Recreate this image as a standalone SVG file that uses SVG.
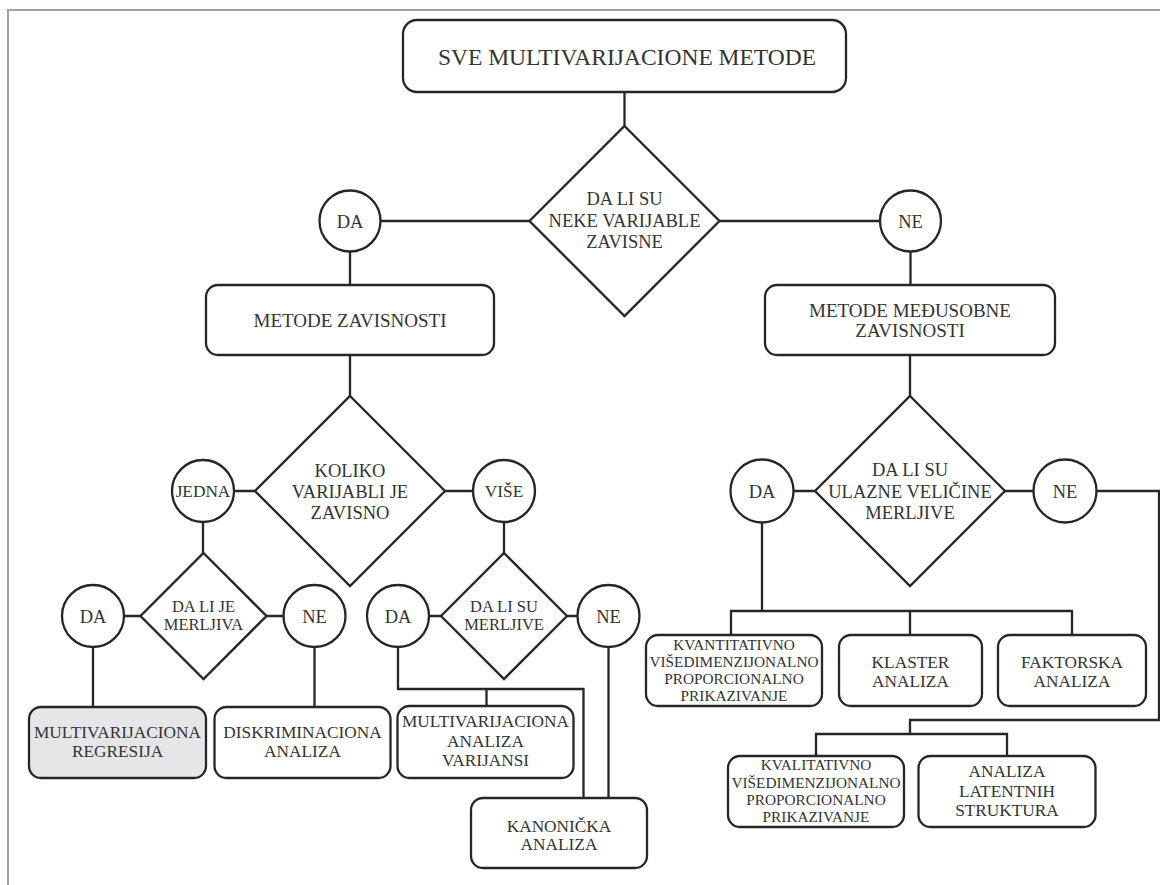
<svg xmlns="http://www.w3.org/2000/svg" width="1160" height="885" viewBox="0 0 1160 885">
  <style>
    .frame { stroke: #a3a3a3; stroke-width: 2; fill: none; }
    .box { fill: #ffffff; stroke: #262626; stroke-width: 2.3; }
    .shaded { fill: #e6e6e8; }
    .dec { fill: #ffffff; stroke: #262626; stroke-width: 2.3; stroke-linejoin: miter; }
    .yn { fill: #ffffff; stroke: #262626; stroke-width: 2.3; }
    .wire { fill: none; stroke: #262626; stroke-width: 2.3; }
    .lbl { fill: #333333; text-anchor: middle; }
    .t23 { font-size: 23.5px; }
    .t19 { font-size: 19px; }
    .t18 { font-size: 18.5px; }
    .t17 { font-size: 17.3px; }
    .t16 { font-size: 16.5px; }
    .t15 { font-size: 15.3px; }
  </style>

  <!-- page frame: left and top rules -->
  <path class="frame" d="M8,885 V10 H1160"/>

  <!-- connectors -->
  <g id="connectors">
    <path class="wire" d="M624.5,92 V127"/>
    <path class="wire" d="M381,221 H530 M719,221 H880"/>
    <path class="wire" d="M350,251.5 V285 M910.5,251.5 V285"/>
    <path class="wire" d="M350,355 V397 M910,355 V397"/>
    <path class="wire" d="M234,491 H255 M445,491 H473 M793,491 H815 M1005,491 H1034"/>
    <path class="wire" d="M1096,491 H1159 V720 H910 V734 M816,756 V734 H1007 V756"/>
    <path class="wire" d="M203,522 V553 M504,522 V553"/>
    <path class="wire" d="M124,616 H141 M266,616 H284 M429,616 H441 M567,616 H578"/>
    <path class="wire" d="M93,647 V707 M314.5,647 V707"/>
    <path class="wire" d="M398,647 V689 H583.5 V798 M486.5,689 V706"/>
    <path class="wire" d="M608.5,647 V798"/>
    <path class="wire" d="M762,522 V611 M731,635 V611 H1072 V635 M910,611 V635"/>
  </g>

  <g class="lbl" font-family="Liberation Serif, Times New Roman, DejaVu Serif, serif">
  <!-- top node -->
  <g id="all-methods">
    <rect class="box" x="403" y="20" width="443" height="72" rx="14"/>
    <text class="t23" x="627" y="65">SVE MULTIVARIJACIONE METODE</text>
  </g>

  <g id="q-dependent">
    <polygon class="dec" points="624.5,126 719.5,221 624.5,316 529.5,221"/>
    <text class="t18" x="624.5" y="205">DA LI SU</text>
    <text class="t18" x="624.5" y="226.5">NEKE VARIJABLE</text>
    <text class="t18" x="624.5" y="247.5">ZAVISNE</text>
  </g>

  <g id="yes-1">
    <circle class="yn" cx="350" cy="221" r="30.5"/>
    <text class="t18" x="350" y="228">DA</text>
  </g>
  <g id="no-1">
    <circle class="yn" cx="910.5" cy="221" r="30.5"/>
    <text class="t18" x="910.5" y="228">NE</text>
  </g>

  <g id="dependence-methods">
    <rect class="box" x="206" y="285" width="288" height="70" rx="12"/>
    <text class="t19" x="350" y="327">METODE ZAVISNOSTI</text>
  </g>
  <g id="interdependence-methods">
    <rect class="box" x="765" y="285" width="290" height="70" rx="12"/>
    <text class="t19" x="910" y="316.5">METODE MEĐUSOBNE</text>
    <text class="t19" x="910" y="337">ZAVISNOSTI</text>
  </g>

  <!-- dependence branch -->
  <g id="q-how-many">
    <polygon class="dec" points="350,396 445,491 350,586 255,491"/>
    <text class="t18" x="350" y="477">KOLIKO</text>
    <text class="t18" x="350" y="498">VARIJABLI JE</text>
    <text class="t18" x="350" y="519">ZAVISNO</text>
  </g>
  <g id="one">
    <circle class="yn" cx="203" cy="491" r="31"/>
    <text class="t17" x="203" y="497">JEDNA</text>
  </g>
  <g id="many">
    <circle class="yn" cx="504" cy="491" r="31"/>
    <text class="t17" x="504" y="497">VIŠE</text>
  </g>

  <g id="q-metric-one">
    <polygon class="dec" points="203.5,553 266.5,616 203.5,679 140.5,616"/>
    <text class="t16" x="203.5" y="611.5">DA LI JE</text>
    <text class="t16" x="203.5" y="630">MERLJIVA</text>
  </g>
  <g id="q-metric-many">
    <polygon class="dec" points="504,553 567,616 504,679 441,616"/>
    <text class="t16" x="504" y="611.5">DA LI SU</text>
    <text class="t16" x="504" y="630">MERLJIVE</text>
  </g>

  <g id="yes-2">
    <circle class="yn" cx="93" cy="616" r="31"/>
    <text class="t18" x="93" y="623">DA</text>
  </g>
  <g id="no-2">
    <circle class="yn" cx="314.5" cy="616" r="31"/>
    <text class="t18" x="314.5" y="623">NE</text>
  </g>
  <g id="yes-3">
    <circle class="yn" cx="398" cy="616" r="31"/>
    <text class="t18" x="398" y="623">DA</text>
  </g>
  <g id="no-3">
    <circle class="yn" cx="608.5" cy="616" r="31"/>
    <text class="t18" x="608.5" y="623">NE</text>
  </g>

  <g id="multiple-regression">
    <rect class="box shaded" x="29" y="707" width="177" height="71" rx="12"/>
    <text class="t17" x="117.5" y="738">MULTIVARIJACIONA</text>
    <text class="t17" x="117.5" y="757">REGRESIJA</text>
  </g>
  <g id="discriminant-analysis">
    <rect class="box" x="214.5" y="707" width="176" height="71" rx="12"/>
    <text class="t17" x="302.5" y="738">DISKRIMINACIONA</text>
    <text class="t17" x="302.5" y="757">ANALIZA</text>
  </g>
  <g id="manova">
    <rect class="box" x="397.5" y="706" width="176" height="72" rx="12"/>
    <text class="t17" x="485.5" y="727">MULTIVARIJACIONA</text>
    <text class="t17" x="485.5" y="746.5">ANALIZA</text>
    <text class="t17" x="485.5" y="766">VARIJANSI</text>
  </g>
  <g id="canonical-analysis">
    <rect class="box" x="471" y="798" width="176" height="70" rx="12"/>
    <text class="t17" x="559" y="831.5">KANONIČKA</text>
    <text class="t17" x="559" y="850">ANALIZA</text>
  </g>

  <!-- interdependence branch -->
  <g id="q-metric-inputs">
    <polygon class="dec" points="910,396 1005,491 910,586 815,491"/>
    <text class="t18" x="910" y="476">DA LI SU</text>
    <text class="t18" x="910" y="498">ULAZNE VELIČINE</text>
    <text class="t18" x="910" y="519">MERLJIVE</text>
  </g>
  <g id="yes-4">
    <circle class="yn" cx="762" cy="491" r="31.5"/>
    <text class="t18" x="762" y="498">DA</text>
  </g>
  <g id="no-4">
    <circle class="yn" cx="1065" cy="491" r="31.5"/>
    <text class="t18" x="1065" y="498">NE</text>
  </g>

  <g id="metric-mds">
    <rect class="box" x="646" y="635" width="176" height="71" rx="12"/>
    <text class="t15" x="734" y="650">KVANTITATIVNO</text>
    <text class="t15" x="734" y="667">VIŠEDIMENZIJONALNO</text>
    <text class="t15" x="734" y="684">PROPORCIONALNO</text>
    <text class="t15" x="734" y="701">PRIKAZIVANJE</text>
  </g>
  <g id="cluster-analysis">
    <rect class="box" x="839" y="635" width="143" height="71" rx="12"/>
    <text class="t17" x="910.5" y="668">KLASTER</text>
    <text class="t17" x="910.5" y="687">ANALIZA</text>
  </g>
  <g id="factor-analysis">
    <rect class="box" x="998" y="635" width="148" height="71" rx="12"/>
    <text class="t17" x="1072" y="668">FAKTORSKA</text>
    <text class="t17" x="1072" y="687">ANALIZA</text>
  </g>

  <g id="nonmetric-mds">
    <rect class="box" x="728" y="756" width="176" height="71" rx="12"/>
    <text class="t15" x="816" y="770">KVALITATIVNO</text>
    <text class="t15" x="816" y="787.5">VIŠEDIMENZIJONALNO</text>
    <text class="t15" x="816" y="804.5">PROPORCIONALNO</text>
    <text class="t15" x="816" y="821.5">PRIKAZIVANJE</text>
  </g>
  <g id="latent-structure">
    <rect class="box" x="918.5" y="756" width="177" height="71" rx="12"/>
    <text class="t17" x="1007" y="777">ANALIZA</text>
    <text class="t17" x="1007" y="797">LATENTNIH</text>
    <text class="t17" x="1007" y="816">STRUKTURA</text>
  </g>
  </g>
</svg>
